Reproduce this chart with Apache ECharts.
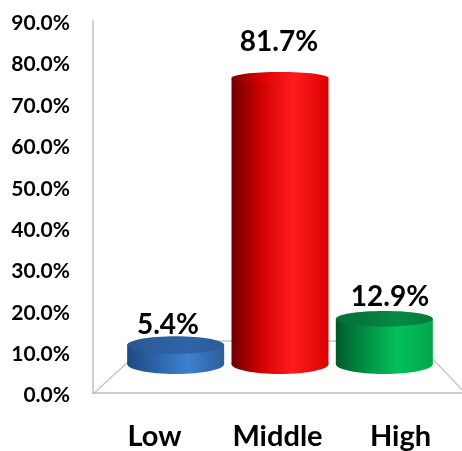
<!DOCTYPE html>
<html>
<head>
<meta charset="utf-8">
<style>html,body{margin:0;padding:0;background:#fff}#chart{width:462px;height:451px}</style>
<script src="https://cdn.jsdelivr.net/npm/echarts@6/dist/echarts.min.js"></script>
</head>
<body>
<div id="chart"></div>
<script>
// Share of respondents per level
const categories = ['Low', 'Middle', 'High'];
const shares = [5.4, 81.7, 12.9];
const axisMax = 90;
const axisStep = 10;

// Horizontal shading of each cylinder's body and of its top cap
const bodyShades = [
  ['#1d4a80', '#2c64a8', '#3f80d2', '#2c5e9c'],
  ['#6e0000', '#d00000', '#ff1c1c', '#dc0000'],
  ['#005a2a', '#008f43', '#05bf5c', '#00a64d']
];
const capShades = [
  ['#28588f', '#2c5f9f', '#2f64a6', '#2a5c9a'],
  ['#800000', '#d80000', '#ff1c1c', '#e00000'],
  ['#06713a', '#06793b', '#058a44', '#067a3c']
];

const FONT = 'Lato, "Open Sans", sans-serif';
const FLOOR_GREY = '#c8c8c8';
const WALL_GREY = '#d0d0d0';
const BASE_GREY = '#bcbcbc';

function shade(stops) {
  return {
    type: 'linear', x: 0, y: 0, x2: 1, y2: 0,
    colorStops: [
      { offset: 0, color: stops[0] },
      { offset: 0.3, color: stops[1] },
      { offset: 0.63, color: stops[2] },
      { offset: 1, color: stops[3] }
    ]
  };
}

// A cylinder rising from the floor: body, rounded foot and elliptical cap.
// The cap flattens as the column gets taller, as in a perspective view.
function renderCylinder(params, api) {
  const idx = api.value(0);
  const top = api.coord([idx, api.value(1)]);
  const base = api.coord([idx, 0]);
  const plotHeight = params.coordSys.height;
  const rx = 48.5;
  const footRy = 10;
  const capRy = 6 + 4 * Math.pow(1 - (base[1] - top[1]) / plotHeight, 5.6);
  const side = shade(bodyShades[idx]);
  return {
    type: 'group',
    children: [
      { type: 'ellipse', shape: { cx: top[0], cy: base[1], rx: rx, ry: footRy }, style: { fill: side } },
      { type: 'rect', shape: { x: top[0] - rx, y: top[1], width: rx * 2, height: base[1] - top[1] }, style: { fill: side } },
      { type: 'ellipse', shape: { cx: top[0], cy: top[1], rx: rx, ry: capRy }, style: { fill: shade(capShades[idx]) } }
    ]
  };
}

// Value label placed on its own plane, centred on the data point
function renderValueLabel(params, api) {
  const v = api.value(1);
  const pos = api.coord([api.value(0), v]);
  return {
    type: 'text',
    style: {
      x: pos[0], y: pos[1],
      text: v.toFixed(1) + '%',
      fill: '#000',
      font: 'bold 28px ' + FONT,
      align: 'center', verticalAlign: 'middle'
    }
  };
}

const chart = echarts.init(document.getElementById('chart'), null, { renderer: 'canvas' });

chart.setOption({
  animation: false,
  backgroundColor: '#ffffff',
  grid: [
    // Front plane with the visible axes
    { left: 93, top: 21, width: 374, height: 373 },
    // Back plane where the cylinders stand
    { left: 123.5, top: 21, width: 313, height: 343 },
    // Plane carrying the value labels
    { left: 112.5, top: 21, width: 333, height: 324 },
    // Plane carrying the percentage tick labels
    { left: 93, top: 23.3, width: 374, height: 372.3 }
  ],
  xAxis: [
    {
      gridIndex: 0, type: 'category', data: categories,
      axisLine: { lineStyle: { color: BASE_GREY, width: 1.5 } },
      axisTick: { show: false },
      axisLabel: { color: '#000', fontFamily: FONT, fontWeight: 'bold', fontSize: 29, margin: 29 }
    },
    { gridIndex: 1, type: 'category', data: categories, show: false },
    { gridIndex: 2, type: 'category', data: categories, show: false },
    { gridIndex: 3, type: 'category', data: categories, show: false }
  ],
  yAxis: [
    {
      gridIndex: 0, type: 'value', min: 0, max: axisMax, interval: axisStep,
      axisLine: { show: true, lineStyle: { color: WALL_GREY, width: 2 } },
      axisTick: { show: false },
      axisLabel: { show: false },
      splitLine: { show: false }
    },
    { gridIndex: 1, type: 'value', min: 0, max: 98, show: false, splitLine: { show: false } },
    { gridIndex: 2, type: 'value', min: 0, max: 87.4, show: false, splitLine: { show: false } },
    {
      gridIndex: 3, type: 'value', min: 0, max: axisMax, interval: axisStep,
      axisLine: { show: false },
      axisTick: { show: false },
      splitLine: { show: false },
      axisLabel: {
        color: '#000', fontFamily: FONT, fontWeight: 'bold', fontSize: 21, margin: 23,
        formatter: v => v.toFixed(1) + '%'
      }
    }
  ],
  // Floor outline behind the cylinders
  graphic: [
    {
      type: 'polyline', z: 0, silent: true,
      shape: { points: [[93, 394], [151, 341], [416, 341], [466, 394]] },
      style: { stroke: FLOOR_GREY, lineWidth: 1.5, fill: null }
    }
  ],
  series: [
    {
      type: 'custom', xAxisIndex: 1, yAxisIndex: 1, z: 3,
      renderItem: renderCylinder,
      encode: { x: 0, y: 1 },
      data: shares.map((v, i) => [i, v])
    },
    {
      type: 'custom', xAxisIndex: 2, yAxisIndex: 2, z: 4,
      renderItem: renderValueLabel,
      encode: { x: 0, y: 1 },
      data: shares.map((v, i) => [i, v])
    }
  ]
});
</script>
</body>
</html>
